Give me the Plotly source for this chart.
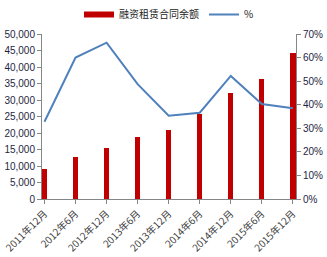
import plotly.graph_objects as go

categories = ["2011年12月", "2012年6月", "2012年12月", "2013年6月", "2013年12月",
              "2014年6月", "2014年12月", "2015年6月", "2015年12月"]
balance = [9100, 12700, 15400, 18800, 20900, 25900, 32000, 36400, 44100]
pct = [32.8, 60.0, 66.3, 48.7, 35.3, 36.6, 52.2, 40.3, 38.5]

font_fam = "Liberation Sans, Noto Sans CJK SC, sans-serif"
cjk = "Noto Sans CJK SC, Liberation Sans, sans-serif"

fig = go.Figure()
fig.add_trace(go.Bar(x=categories, y=balance, name="融资租赁合同余额", showlegend=False,
                     marker=dict(color="#C00000", line=dict(width=0)), width=0.17))
# legend entry for bars: wide red rectangle
fig.add_trace(go.Scatter(x=[categories[0]], y=[None], name="融资租赁合同余额", mode="lines",
                         line=dict(color="#C00000", width=6)))
fig.add_trace(go.Scatter(x=categories, y=pct, name="%", yaxis="y2", mode="lines",
                         line=dict(color="#4F81BD", width=2)))

fig.update_layout(
    width=327, height=257,
    margin=dict(l=42, r=31, t=34, b=58, autoexpand=False),
    plot_bgcolor="white", paper_bgcolor="white",
    showlegend=True,
    legend=dict(orientation="h", x=0.5, xanchor="center", y=1.0, yanchor="top",
                yref="container", font=dict(family=cjk, size=10, color="#222222"),
                tracegroupgap=0, bgcolor="rgba(0,0,0,0)", itemwidth=30),
    xaxis=dict(type="category", range=[-0.08, 8.1], tickangle=-45, automargin=False,
               showline=True, linecolor="#868686", linewidth=1,
               ticks="outside", ticklen=4, tickcolor="#868686",
               tickfont=dict(family=cjk, size=10, color="#404040"), showgrid=False),
    yaxis=dict(range=[0, 50000], dtick=5000, tickformat=",d", automargin=False,
               showline=True, linecolor="#868686", linewidth=1,
               ticks="outside", ticklen=4, tickcolor="#868686",
               tickfont=dict(family=font_fam, size=10, color="#1F1F3F"), showgrid=False,
               zeroline=False),
    yaxis2=dict(range=[0, 70], dtick=10, ticksuffix="%", overlaying="y", side="right",
                automargin=False,
                showline=True, linecolor="#868686", linewidth=1,
                ticks="outside", ticklen=4, tickcolor="#868686",
                tickfont=dict(family=font_fam, size=10, color="#1F1F3F"), showgrid=False,
                zeroline=False),
    bargap=0,
)

fig.write_html("out.html")
